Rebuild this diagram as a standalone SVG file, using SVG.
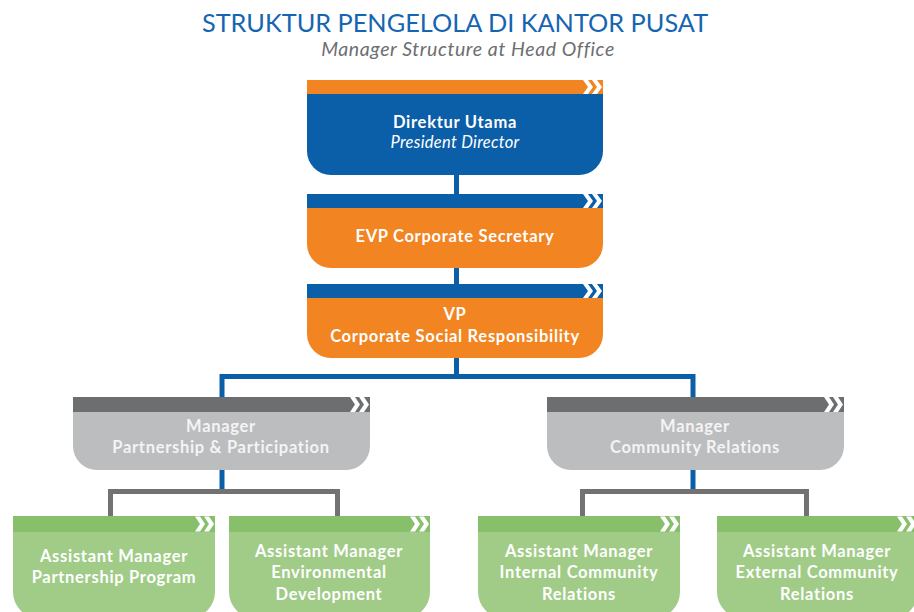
<svg xmlns="http://www.w3.org/2000/svg" width="914" height="612" viewBox="0 0 914 612">
  <style>
    text { font-family: Lato, "Open Sans", "Liberation Sans", sans-serif; text-anchor: middle; }
    .title { font-size: 25.3px; fill: #1565b2; }
    .sub { font-size: 19.5px; font-style: italic; fill: #6d6e71; letter-spacing: 0.6px; }
    .lbl { font-size: 16.5px; font-weight: bold; fill: #ffffff; letter-spacing: 0.7px; }
    .lbl-i { font-size: 16.5px; font-style: italic; fill: #ffffff; letter-spacing: 0.3px; }
    .lbl-g { font-size: 16.5px; font-weight: bold; fill: #f4f4f4; letter-spacing: 0.7px; }
    .blue { fill: #0b5ea8; }
    .orange { fill: #f28421; }
    .gbar { fill: #6d6e70; }
    .gbody { fill: #bcbdbf; }
    .lbar { fill: #87bf6b; }
    .lbody { fill: #a0cc88; }
    .chev { fill: #ffffff; }
    .wire-b { fill: none; stroke: #0b5ea8; stroke-width: 5; }
    .wire-g { fill: none; stroke: #727272; stroke-width: 5; }
  </style>
  <defs>
    <!-- double chevron drawn at the right end of each header bar -->
    <g id="chev14">
      <polygon class="chev" points="0,0 5,0 10,7 5,14 0,14 5,7"/>
      <polygon class="chev" points="9,0 14,0 19,7 14,14 9,14 14,7"/>
    </g>
    <g id="chev15">
      <polygon class="chev" points="0,0 5,0 10,7.5 5,15 0,15 5,7.5"/>
      <polygon class="chev" points="9,0 14,0 19,7.5 14,15 9,15 14,7.5"/>
    </g>
  </defs>

  <!-- heading -->
  <text class="title" x="455" y="32">STRUKTUR PENGELOLA DI KANTOR PUSAT</text>
  <text class="sub" x="468" y="56">Manager Structure at Head Office</text>

  <!-- connectors -->
  <g id="connectors">
    <path class="wire-b" d="M456.5 175 V196"/>
    <path class="wire-b" d="M456.5 267 V286"/>
    <path class="wire-b" d="M456.5 356 V376.5 M222 397 V376.5 H693 V397"/>
    <path class="wire-b" d="M222 469 V490"/>
    <path class="wire-b" d="M693 469 V490"/>
    <path class="wire-g" d="M110.5 516 V491.5 H337.5 V516"/>
    <path class="wire-g" d="M582.5 516 V491.5 H806.5 V516"/>
  </g>

  <!-- Direktur Utama -->
  <g id="node-direktur">
    <rect class="orange" x="307" y="80" width="296" height="14"/>
    <use href="#chev14" x="583" y="80"/>
    <path class="blue" d="M307 94 H603 V151 A24 24 0 0 1 579 175 H331 A24 24 0 0 1 307 151 Z"/>
    <text class="lbl" x="455" y="128">Direktur Utama</text>
    <text class="lbl-i" x="455" y="148">President Director</text>
  </g>

  <!-- EVP Corporate Secretary -->
  <g id="node-evp">
    <rect class="blue" x="307" y="194" width="296" height="14"/>
    <use href="#chev14" x="583" y="194"/>
    <path class="orange" d="M307 208 H603 V244 A24 24 0 0 1 579 268 H331 A24 24 0 0 1 307 244 Z"/>
    <text class="lbl" x="455" y="242">EVP Corporate Secretary</text>
  </g>

  <!-- VP CSR -->
  <g id="node-vp">
    <rect class="blue" x="307" y="284" width="296" height="14"/>
    <use href="#chev14" x="583" y="284"/>
    <path class="orange" d="M307 298 H603 V334 A24 24 0 0 1 579 358 H331 A24 24 0 0 1 307 334 Z"/>
    <text class="lbl" x="455" y="320">VP</text>
    <text class="lbl" x="455" y="342">Corporate Social Responsibility</text>
  </g>

  <!-- Manager Partnership & Participation -->
  <g id="node-mgr-pp">
    <rect class="gbar" x="73" y="397" width="297" height="15"/>
    <use href="#chev15" x="350" y="397"/>
    <path class="gbody" d="M73 412 H370 V446 A24 24 0 0 1 346 470 H97 A24 24 0 0 1 73 446 Z"/>
    <text class="lbl-g" x="221" y="432">Manager</text>
    <text class="lbl-g" x="221" y="453">Partnership &amp; Participation</text>
  </g>

  <!-- Manager Community Relations -->
  <g id="node-mgr-cr">
    <rect class="gbar" x="547" y="397" width="297" height="15"/>
    <use href="#chev15" x="824" y="397"/>
    <path class="gbody" d="M547 412 H844 V446 A24 24 0 0 1 820 470 H571 A24 24 0 0 1 547 446 Z"/>
    <text class="lbl-g" x="695" y="432">Manager</text>
    <text class="lbl-g" x="695" y="453">Community Relations</text>
  </g>

  <!-- Assistant Manager Partnership Program -->
  <g id="node-am-pp">
    <rect class="lbar" x="13" y="516" width="202" height="16"/>
    <use href="#chev15" x="195" y="516.5"/>
    <path class="lbody" d="M13 532 H215 V592 A26 26 0 0 1 189 618 H39 A26 26 0 0 1 13 592 Z"/>
    <text class="lbl" x="114" y="562">Assistant Manager</text>
    <text class="lbl" x="114" y="583">Partnership Program</text>
  </g>

  <!-- Assistant Manager Environmental Development -->
  <g id="node-am-ed">
    <rect class="lbar" x="229" y="516" width="201" height="16"/>
    <use href="#chev15" x="410" y="516.5"/>
    <path class="lbody" d="M229 532 H430 V592 A26 26 0 0 1 404 618 H255 A26 26 0 0 1 229 592 Z"/>
    <text class="lbl" x="329" y="557">Assistant Manager</text>
    <text class="lbl" x="329" y="578">Environmental</text>
    <text class="lbl" x="329" y="600">Development</text>
  </g>

  <!-- Assistant Manager Internal Community Relations -->
  <g id="node-am-icr">
    <rect class="lbar" x="478" y="516" width="202" height="16"/>
    <use href="#chev15" x="660" y="516.5"/>
    <path class="lbody" d="M478 532 H680 V592 A26 26 0 0 1 654 618 H504 A26 26 0 0 1 478 592 Z"/>
    <text class="lbl" x="579" y="557">Assistant Manager</text>
    <text class="lbl" x="579" y="578">Internal Community</text>
    <text class="lbl" x="579" y="600">Relations</text>
  </g>

  <!-- Assistant Manager External Community Relations -->
  <g id="node-am-ecr">
    <rect class="lbar" x="717" y="516" width="201" height="16"/>
    <use href="#chev15" x="897" y="516.5"/>
    <path class="lbody" d="M717 532 H918 V592 A26 26 0 0 1 892 618 H743 A26 26 0 0 1 717 592 Z"/>
    <text class="lbl" x="817" y="557">Assistant Manager</text>
    <text class="lbl" x="817" y="578">External Community</text>
    <text class="lbl" x="817" y="600">Relations</text>
  </g>
</svg>
